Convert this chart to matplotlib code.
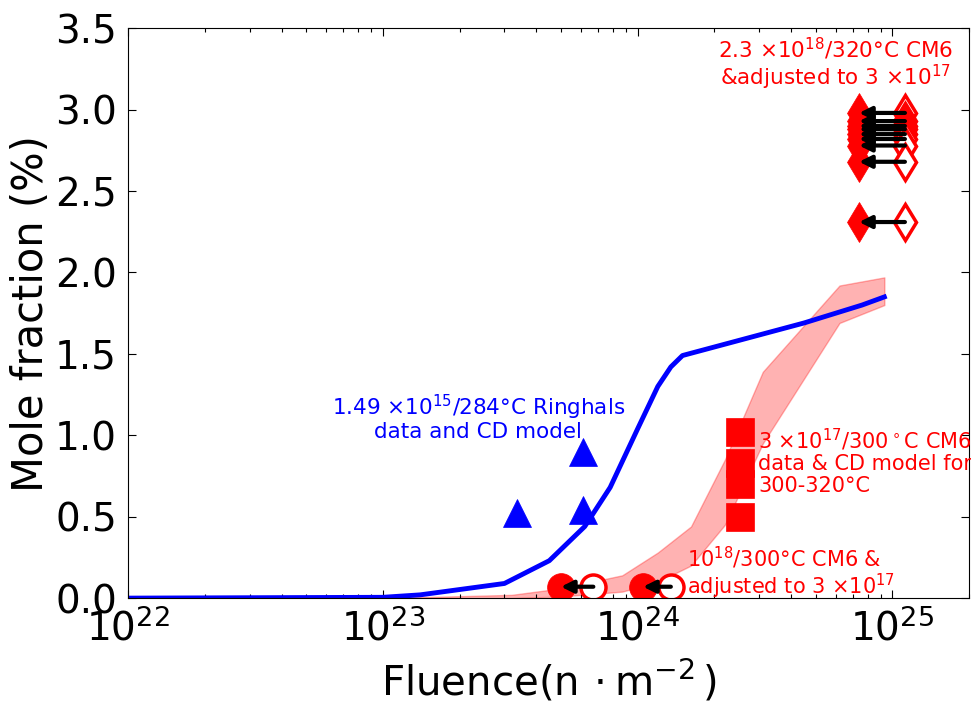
import numpy as np
import matplotlib
matplotlib.use("Agg")
import matplotlib.pyplot as plt

# CD model, Ringhals 1.49e15 / 284C
cd_fluence = [1e22, 1e23, 1.4e23, 3.0e23, 4.5e23, 6.2e23, 7.8e23, 1.0e24,
              1.2e24, 1.35e24, 1.5e24, 4.5e24, 7.6e24, 9.3e24]
cd_frac = [0.0, 0.005, 0.02, 0.09, 0.23, 0.44, 0.68, 1.04,
           1.30, 1.42, 1.49, 1.69, 1.80, 1.85]

# Ringhals data
ring_fluence = [3.35e23, 6.1e23, 6.1e23]
ring_frac = [0.52, 0.90, 0.54]

# CD model band 300-320C
band_fluence = [1.0e23, 3.2e23, 5.0e23, 8.7e23, 1.2e24, 1.62e24, 2.2e24,
                3.1e24, 6.2e24, 9.3e24]
band_hi = [0.0, 0.02, 0.06, 0.14, 0.28, 0.44, 0.85, 1.39, 1.92, 1.97]
band_lo = [0.0, 0.0, 0.01, 0.04, 0.10, 0.20, 0.45, 0.95, 1.69, 1.80]

# CM6 3e17 / 300C
sq_fluence = [2.52e24, 2.52e24, 2.52e24, 2.52e24]
sq_frac = [1.02, 0.83, 0.70, 0.50]

# CM6 1e18 / 300C, measured and adjusted
circ_fluence = [5.0e23, 1.05e24]
circ_adj = [6.7e23, 1.35e24]
circ_frac = [0.07, 0.07]

# CM6 2.3e18 / 320C, measured and adjusted
dia_fluence = 7.4e24
dia_adj = 1.12e25
dia_frac = [2.98, 2.93, 2.90, 2.88, 2.85, 2.82, 2.78, 2.68, 2.31]

plt.rcParams['font.family'] = ['DejaVu Sans']
plt.rcParams['mathtext.fontset'] = 'dejavusans'

fig = plt.figure(figsize=(9.71, 7.07), dpi=100)
ax = fig.add_axes([0.132, 0.154, 0.866, 0.806])

arrow_kw = dict(arrowstyle='-|>', color='k', lw=3, mutation_scale=18,
                shrinkA=0, shrinkB=0)

ax.fill_between(band_fluence, band_lo, band_hi, color='r', alpha=0.3, lw=1)
ax.plot(cd_fluence, cd_frac, color='b', lw=3.5)
ax.plot(ring_fluence, ring_frac, '^', color='b', ms=20, mec='b', mew=0.5)
ax.plot(sq_fluence, sq_frac, 's', color='r', ms=20, mec='r', mew=0.5)

ax.plot(circ_fluence, circ_frac, 'o', color='r', ms=20, mec='r', mew=0.5)
ax.plot(circ_adj, circ_frac, 'o', mfc='w', mec='r', ms=18, mew=2.5)
for f0, f1, y in zip(circ_adj, circ_fluence, circ_frac):
    ax.annotate('', xy=(f1, y), xytext=(f0, y), arrowprops=arrow_kw)

ax.plot([dia_fluence] * len(dia_frac), dia_frac, 'd', color='r', ms=20,
        mec='r', mew=0.5)
ax.plot([dia_adj] * len(dia_frac), dia_frac, 'd', mfc='w', mec='r', ms=18,
        mew=2.5)
for y in dia_frac:
    ax.annotate('', xy=(dia_fluence, y), xytext=(dia_adj, y), arrowprops=arrow_kw)

ax.text(6.0e24, 3.28, '2.3 $\\times10^{18}$/320°C CM6\n&adjusted to 3 $\\times10^{17}$',
        color='r', fontsize=15.5, ha='center', va='center', linespacing=1.05)
ax.text(2.37e23, 1.11, '1.49 $\\times10^{15}$/284°C Ringhals\ndata and CD model',
        color='b', fontsize=15.5, ha='center', va='center', linespacing=1.05)
ax.text(2.97e24, 0.84, '3 $\\times10^{17}$/300$^\\circ$C CM6\ndata & CD model for\n300-320°C',
        color='r', fontsize=15, ha='left', va='center', linespacing=1.1)
ax.text(1.56e24, 0.157, '$10^{18}$/300°C CM6 &\nadjusted to 3 $\\times10^{17}$',
        color='r', fontsize=15, ha='left', va='center', linespacing=1.05)

ax.set_xscale('log')
ax.set_xlim(1e22, 2e25)
ax.set_ylim(0, 3.5)
ax.set_yticks(np.arange(0, 3.51, 0.5))
ax.set_xlabel('Fluence(n$\\,\\cdot$m$^{-2}\\,$)', fontsize=29, labelpad=7)
ax.set_ylabel('Mole fraction (%)', fontsize=30, labelpad=2)
ax.tick_params(which='both', direction='in', top=True, right=True, labelsize=28)
ax.tick_params(which='major', length=6, width=0.8, pad=8)
ax.tick_params(which='minor', length=3, width=0.8)

fig.savefig('out.png', dpi=100)
